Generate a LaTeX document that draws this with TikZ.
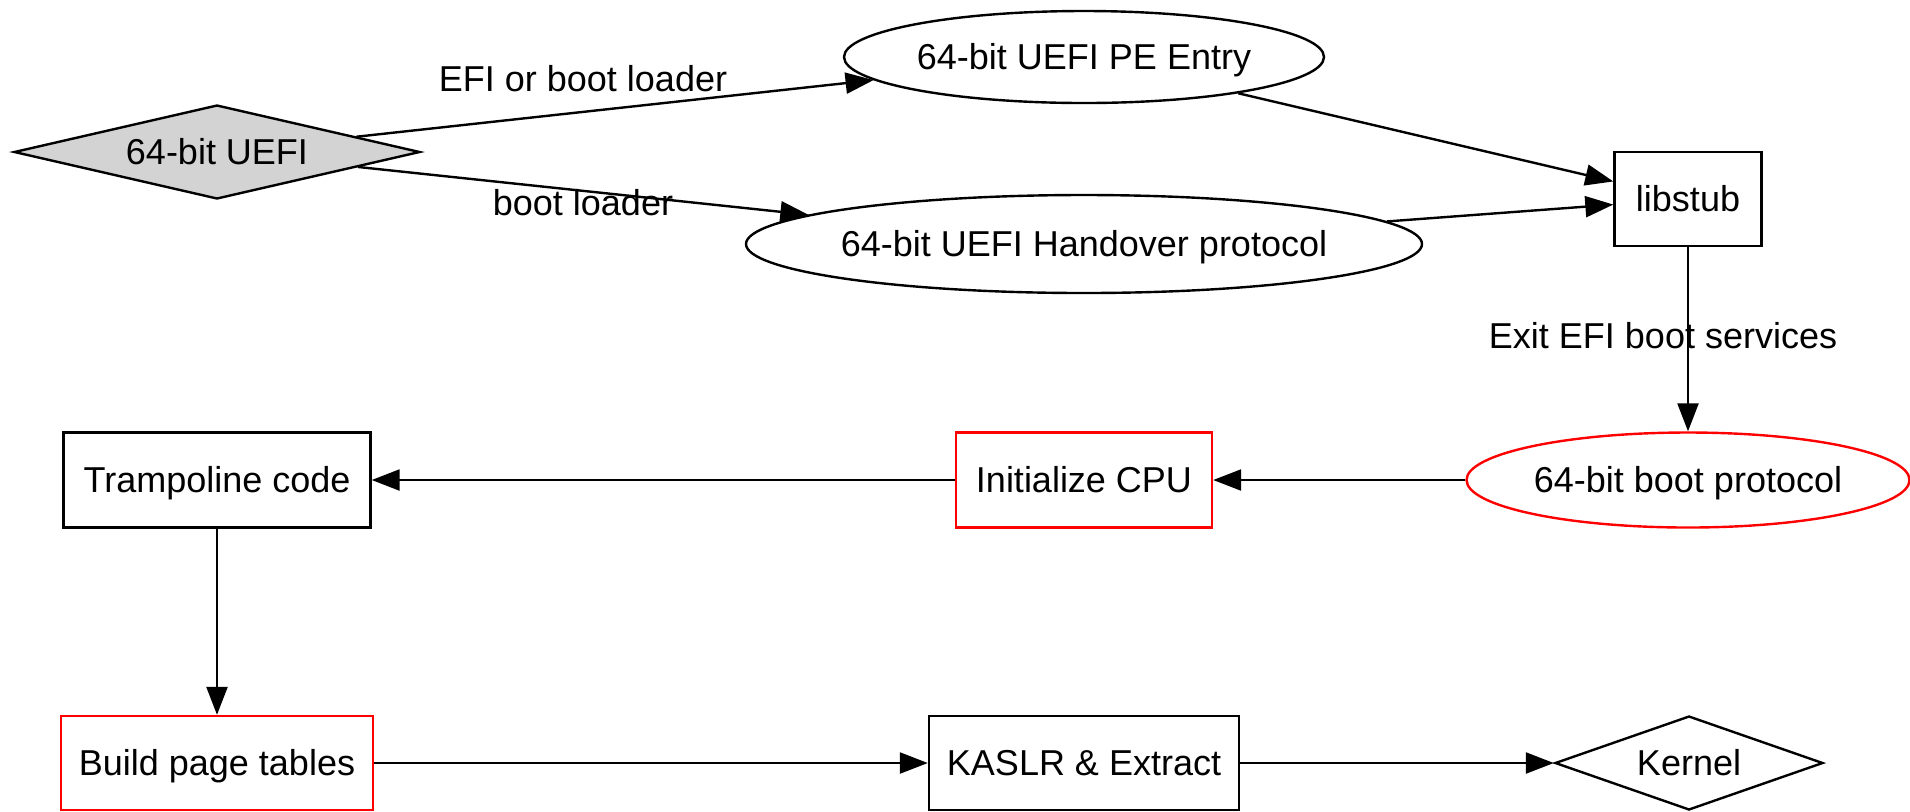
\documentclass[tikz,border=0pt]{standalone}
\usepackage{fontspec}
\setmainfont{Liberation Sans}
\usetikzlibrary{shapes.geometric,arrows.meta}
\definecolor{gvred}{RGB}{255,0,0}
\definecolor{gvgray}{RGB}{211,211,211}
\begin{document}
\begin{tikzpicture}[x=0.5pt,y=-0.5pt,
  every node/.style={font=\fontsize{18}{20}\selectfont, text height=12.9pt, text depth=0pt, inner sep=0pt, line width=1.2pt},
  box/.style={draw, rectangle},
  oval/.style={draw, ellipse},
  dia/.style={draw, diamond},
  lbl/.style={},
  arr/.style={line width=1.2pt, -{Triangle[length=14pt,width=10.5pt]}}
]
\useasboundingbox (0,0) rectangle (1910,811);
% nodes
\node[dia, fill=gvgray, aspect=4.3, minimum width=203pt, minimum height=47pt] (uefi) at (217,152) {64-bit UEFI};
\node[oval, minimum width=240pt, minimum height=46pt] (pe) at (1084,57) {64-bit UEFI PE Entry};
\node[oval, inner xsep=-4pt, minimum width=338pt, minimum height=49pt] (ho) at (1084,244) {64-bit UEFI Handover protocol};
\node[box, minimum width=73.5pt, minimum height=47pt] (lib) at (1688,199) {libstub};
\node[oval, draw=gvred, minimum width=221.5pt, minimum height=47.5pt] (bp) at (1688,480) {64-bit boot protocol};
\node[box, draw=gvred, minimum width=128pt, minimum height=47.5pt] (cpu) at (1084,480) {Initialize CPU};
\node[box, minimum width=153.5pt, minimum height=47.5pt] (tramp) at (217,480) {Trampoline code};
\node[box, draw=gvred, minimum width=156pt, minimum height=47pt] (build) at (217,763) {Build page tables};
\node[box, minimum width=155pt, minimum height=47pt] (kaslr) at (1084,763) {KASLR \& Extract};
\node[dia, aspect=2.8, minimum width=134pt, minimum height=47pt] (kernel) at (1689,763) {Kernel};
% labels
\node[lbl] (l1) at (583,79) {EFI or boot loader};
\node[lbl] (l2) at (583,203) {boot loader};
\node[lbl] (l3) at (1663,336) {Exit EFI boot services};
% edges
\draw[arr] (uefi) -- (pe);
\draw[arr] (uefi) -- (ho);
\draw[arr] (pe) -- (lib);
\draw[arr] (ho) -- (lib);
\draw[arr] (lib) -- (bp);
\draw[arr] (bp) -- (cpu);
\draw[arr] (cpu) -- (tramp);
\draw[arr] (tramp) -- (build);
\draw[arr] (build) -- (kaslr);
\draw[arr] (kaslr) -- (kernel);
\end{tikzpicture}
\end{document}
